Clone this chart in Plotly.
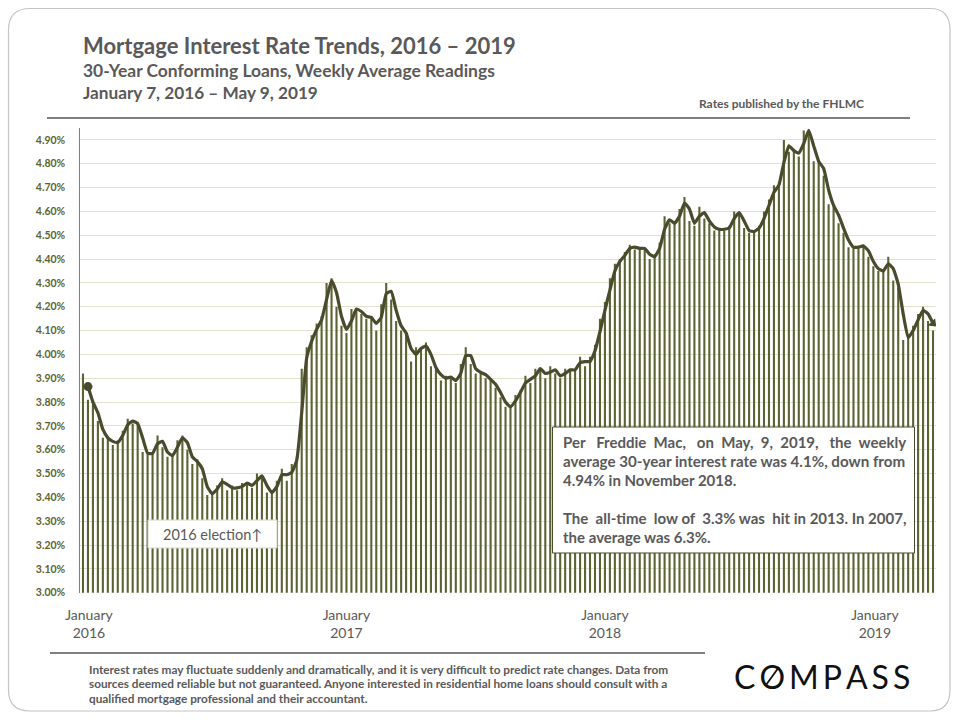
import plotly.graph_objects as go

weekly_rate = [
3.92,3.81,3.79,3.72,3.65,3.65,3.62,3.64,3.68,3.73,3.71,3.71,3.59,3.58,3.59,3.66,3.61,3.57,3.58,3.64,
3.66,3.60,3.54,3.56,3.48,3.41,3.42,3.45,3.48,3.43,3.45,3.43,3.46,3.46,3.44,3.50,3.48,3.42,3.42,3.47,
3.52,3.47,3.54,3.57,3.94,4.03,4.08,4.13,4.16,4.30,4.32,4.20,4.12,4.09,4.19,4.19,4.17,4.15,4.16,4.10,
4.21,4.30,4.23,4.14,4.10,4.08,3.97,4.03,4.02,4.05,3.95,3.94,3.89,3.91,3.90,3.88,3.96,4.03,3.96,3.92,
3.93,3.90,3.89,3.86,3.82,3.78,3.78,3.83,3.85,3.91,3.88,3.94,3.94,3.90,3.95,3.92,3.90,3.94,3.93,3.94,
3.99,3.95,3.99,4.04,4.15,4.22,4.32,4.38,4.40,4.43,4.46,4.44,4.45,4.44,4.40,4.42,4.47,4.58,4.55,4.55,
4.61,4.66,4.56,4.54,4.62,4.57,4.55,4.52,4.53,4.52,4.54,4.60,4.59,4.53,4.51,4.52,4.54,4.60,4.65,4.71,
4.71,4.90,4.85,4.86,4.83,4.94,4.94,4.81,4.81,4.75,4.63,4.62,4.55,4.51,4.45,4.45,4.45,4.46,4.41,4.37,
4.35,4.35,4.41,4.31,4.28,4.06,4.08,4.12,4.17,4.20,4.14,4.10]

trend_line = [
None,3.865,3.80,3.755,3.685,3.65,3.635,3.63,3.66,3.705,3.72,3.71,3.65,3.585,3.585,3.625,3.635,3.59,3.575,3.61,
3.65,3.63,3.57,3.55,3.52,3.445,3.415,3.435,3.465,3.455,3.44,3.44,3.445,3.46,3.45,3.47,3.49,3.45,3.42,3.445,
3.495,3.495,3.505,3.555,3.755,3.985,4.055,4.105,4.145,4.23,4.31,4.26,4.16,4.105,4.14,4.19,4.18,4.16,4.155,4.13,
4.155,4.255,4.265,4.185,4.12,4.09,4.025,4.00,4.025,4.035,4.00,3.945,3.915,3.90,3.905,3.89,3.92,3.995,3.995,3.94,
3.925,3.915,3.895,3.875,3.84,3.80,3.78,3.805,3.84,3.88,3.895,3.91,3.94,3.92,3.925,3.935,3.91,3.92,3.935,3.935,
3.965,3.97,3.97,4.015,4.095,4.185,4.27,4.35,4.39,4.415,4.445,4.45,4.445,4.445,4.42,4.41,4.445,4.525,4.565,4.55,
4.58,4.635,4.61,4.55,4.58,4.595,4.56,4.535,4.525,4.525,4.53,4.57,4.595,4.56,4.52,4.515,4.53,4.57,4.625,4.68,
4.71,4.805,4.875,4.855,4.845,4.885,4.94,4.875,4.81,4.78,4.69,4.625,4.585,4.53,4.48,4.45,4.45,4.455,4.435,4.39,
4.36,4.35,4.38,4.36,4.295,4.17,4.07,4.10,4.145,4.185,4.17,4.13]

year_labels = ["January<br>2016", "January<br>2017", "January<br>2018", "January<br>2019"]
year_weeks = [1.2, 53, 105, 159.3]
rate_ticks = [3.0,3.1,3.2,3.3,3.4,3.5,3.6,3.7,3.8,3.9,4.0,4.1,4.2,4.3,4.4,4.5,4.6,4.7,4.8,4.9]

W, H = 960, 720
GREY = "#595959"
OLIVE = "#5b6332"
DARK = "#4a4a2c"
FONT = "Lato"
weeks = list(range(len(weekly_rate)))

def px(x): return x / W
def py(y): return 1 - y / H

fig = go.Figure()
fig.add_bar(x=weeks, y=weekly_rate, marker=dict(color=OLIVE, line_width=0), hoverinfo="skip")
fig.add_scatter(x=weeks, y=trend_line, mode="lines",
                line=dict(color=DARK, width=3.2, shape="spline", smoothing=0.4),
                connectgaps=False, hoverinfo="skip")
fig.add_scatter(x=[weeks[1]], y=[trend_line[1]], mode="markers",
                marker=dict(size=9, symbol="circle", color=DARK, line_width=0), hoverinfo="skip")
fig.add_scatter(x=[weeks[-1]], y=[trend_line[-1]], mode="markers",
                marker=dict(size=9, symbol="triangle-up", angle=135, color=DARK, line_width=0), hoverinfo="skip")

shapes = [
    dict(type="path", xref="paper", yref="paper", layer="below",
         path=f"M {px(8.5)} {py(30)} Q {px(8.5)} {py(8.5)} {px(30)} {py(8.5)} L {px(930)} {py(8.5)} "
              f"Q {px(950)} {py(8.5)} {px(950)} {py(30)} L {px(950)} {py(690)} Q {px(950)} {py(711)} {px(930)} {py(711)} "
              f"L {px(30)} {py(711)} Q {px(8.5)} {py(711)} {px(8.5)} {py(690)} Z",
         line=dict(color="#c4c4c4", width=1.2), fillcolor="white"),
    dict(type="line", xref="paper", yref="paper", x0=px(47), x1=px(910), y0=py(118), y1=py(118),
         line=dict(color="#7f7f7f", width=2)),
    dict(type="line", xref="paper", yref="paper", x0=px(50), x1=px(705), y0=py(653), y1=py(653),
         line=dict(color="#7f7f7f", width=2)),
    dict(type="rect", xref="paper", yref="paper", x0=px(148), x1=px(277), y0=py(520), y1=py(548),
         line=dict(color="#d4d8c4", width=1), fillcolor="white", layer="above"),
    dict(type="rect", xref="paper", yref="paper", x0=px(552.5), x1=px(914.5), y0=py(427), y1=py(553),
         line=dict(color=DARK, width=1), fillcolor="white", layer="above"),
    dict(type="line", xref="paper", yref="paper", x0=px(766), x1=px(779), y0=py(685), y1=py(667),
         line=dict(color="#111111", width=1.8)),
]

def note(x, y, text, size, bold=True, color=GREY, anchor="left"):
    if bold:
        text = f"<b>{text}</b>"
    return dict(xref="paper", yref="paper", x=px(x), y=py(y), text=text, showarrow=False,
                xanchor=anchor, yanchor="middle", align=anchor,
                font=dict(family=FONT, size=size, color=color))

NB = "\u00a0"
N2, N3 = NB * 2, NB * 3
TH = "\u2009"
annotations = [
    note(81, 45, "Mortgage Interest Rate Trends, 2016 – 2019", 22),
    note(81, 71, "30-Year Conforming Loans, Weekly Average Readings", 17.45),
    note(81, 93, "January 7, 2016 – May 9, 2019", 17.2),
    note(697, 104, "Rates published by the FHLMC", 12),
    note(212, 534, "2016 election↑", 14.5, anchor="center", bold=False),
    note(561, 442, f"Per{N3}Freddie{N2}Mac,{N3}on{N2}May,{N2}9,{N2}2019,{N3}the{N2}weekly", 15),
    note(561, 461, "average 30-year interest rate was 4.1%, down from", 15.15),
    note(561, 480, "4.94% in November 2018.", 15),
    note(561, 518, f"The{N2}all-time{N2}low{NB}of{N2}3.3%{NB}was{N2}hit{NB}in{NB}2013.{NB}In{NB}2007,", 15),
    note(561, 537, "the average was 6.3%.", 15),
    note(87, 669, "Interest rates may fluctuate suddenly and dramatically, and it is very difficult to predict rate changes. Data from", 11.8),
    note(87, 683, "sources deemed reliable but not guaranteed. Anyone interested in residential home loans should consult with a", 11.8),
    note(87, 698, "qualified mortgage professional and their accountant.", 11.8),
    note(822, 676, TH.join("COMPASS"), 32, bold=False, color="#111111", anchor="center"),
]

fig.update_layout(
    width=W, height=H, autosize=False, showlegend=False,
    margin=dict(l=0, r=0, t=0, b=0, pad=0),
    paper_bgcolor="white", plot_bgcolor="rgba(0,0,0,0)",
    bargap=0.58, shapes=shapes, annotations=annotations,
    font=dict(family=FONT, color=GREY),
    xaxis=dict(domain=[px(80.3), px(936)], range=[-0.54, 171.6], tickmode="array", automargin=False,
               tickvals=year_weeks, ticktext=year_labels, showgrid=False, zeroline=False,
               ticks="outside", ticklen=9, tickcolor="rgba(0,0,0,0)", showline=False,
               tickfont=dict(family=FONT, size=14, color=GREY)),
    yaxis=dict(domain=[py(592.7), py(128)], range=[3.0, 4.95], tickmode="array", automargin=False,
               tickvals=rate_ticks, ticktext=[f"<b>{v:.2f}%</b>" for v in rate_ticks],
               showgrid=True, gridcolor="#e2e2cc", gridwidth=1.3, zeroline=False,
               showline=True, linecolor="#7f7f7f", linewidth=1,
               ticks="outside", ticklen=12, tickcolor="rgba(0,0,0,0)",
               tickfont=dict(family=FONT, size=10.5, color=OLIVE)),
)
fig.write_html("out.html", config=dict(displayModeBar=False),
               post_script="document.body.style.margin='0';document.documentElement.style.overflow='hidden';")
